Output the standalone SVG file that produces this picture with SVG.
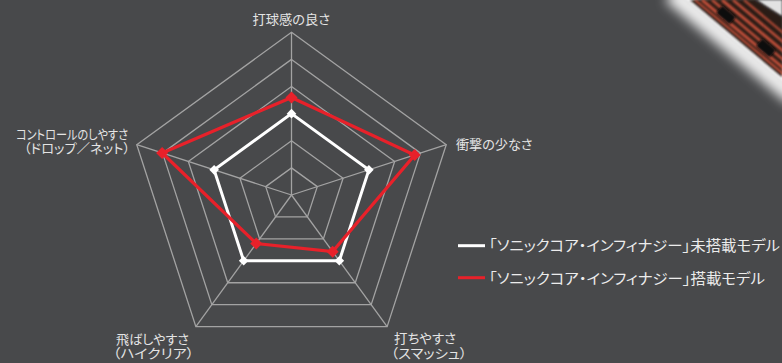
<svg xmlns="http://www.w3.org/2000/svg" width="782" height="363" viewBox="0 0 782 363">
<defs>
<style>
.bg{fill:#48494b}
.grid{fill:none;stroke:#a3a3a3;stroke-width:1.3}
.lbl{font-family:"Noto Sans CJK JP","Noto Sans",sans-serif;font-size:13px;fill:#e4e4e4;font-feature-settings:"palt"}
.leg{font-family:"Noto Sans CJK JP","Noto Sans",sans-serif;font-size:14.5px;fill:#ececec;font-feature-settings:"palt"}
.wline{fill:none;stroke:#ffffff;stroke-width:3;stroke-linejoin:miter}
.rline{fill:none;stroke:#e8212a;stroke-width:3.2;stroke-linejoin:miter}
.wm{fill:#ffffff}
.rm{fill:#e8212a}
.stripe{stroke:#c2503a;fill:none}
</style>
<filter id="blur" x="-50%" y="-50%" width="200%" height="200%"><feGaussianBlur stdDeviation="6"/></filter>
<filter id="blur2" x="-50%" y="-50%" width="200%" height="200%"><feGaussianBlur stdDeviation="1.2"/></filter>
<path id="dw" d="M0,-4.8 L4.8,0 L0,4.8 L-4.8,0Z"/>
<path id="dr" d="M0,-6 L6,0 L0,6 L-6,0Z"/>
</defs>
<rect class="bg" x="0" y="0" width="782" height="363"/>

<g id="racket">
<path d="M672,-8 L796,96" stroke="#ffffff" stroke-width="22" fill="none" filter="url(#blur)" opacity="0.9"/>
<path d="M686,-4 L790,84" stroke="#f4f4f4" stroke-width="5" fill="none" filter="url(#blur2)"/>
<polygon points="757,0 782,0 782,16" fill="#e2e2e2" filter="url(#blur2)"/>
<polygon points="690,0 782,77 782,17 755,0" fill="#2a1b19" filter="url(#blur2)"/>
<g class="stripe" filter="url(#blur2)">
<line x1="695" y1="0" x2="800" y2="88" stroke-width="2.2"/>
<line x1="702" y1="0" x2="800" y2="82" stroke-width="3"/>
<line x1="712" y1="0" x2="800" y2="74" stroke-width="2.5"/>
<line x1="722" y1="0" x2="800" y2="65" stroke-width="3"/>
<line x1="733" y1="0" x2="800" y2="56" stroke-width="2.5"/>
<line x1="744" y1="0" x2="800" y2="47" stroke-width="2"/>
</g>
<g fill="#111111" filter="url(#blur2)">
<rect x="-9" y="-5" width="18" height="10" rx="2" transform="translate(726,15) rotate(40)"/>
<rect x="-9" y="-5" width="18" height="10" rx="2" transform="translate(766,48) rotate(40)"/>
</g>
</g>

<g id="grid" class="grid">
<polygon points="291.5,167.88 317.29,186.62 307.44,216.94 275.56,216.94 265.71,186.62"/>
<polygon points="291.5,140.77 343.08,178.24 323.38,238.87 259.62,238.87 239.92,178.24"/>
<polygon points="291.5,113.65 368.87,169.86 339.32,260.81 243.68,260.81 214.13,169.86"/>
<polygon points="291.5,86.53 394.66,161.48 355.26,282.75 227.74,282.75 188.34,161.48"/>
<polygon points="291.5,59.42 420.45,153.10 371.19,304.68 211.81,304.68 162.55,153.10"/>
<polygon points="291.5,32.3 446.24,144.72 387.13,326.62 195.87,326.62 136.76,144.72"/>
<line x1="291.5" y1="195" x2="291.5" y2="32.3"/>
<line x1="291.5" y1="195" x2="446.24" y2="144.72"/>
<line x1="291.5" y1="195" x2="387.13" y2="326.62"/>
<line x1="291.5" y1="195" x2="195.87" y2="326.62"/>
<line x1="291.5" y1="195" x2="136.76" y2="144.72"/>
</g>

<g id="series-white">
<polygon class="wline" points="291.5,113.65 368.87,169.86 339.32,260.81 243.68,260.81 214.13,169.86"/>
<use href="#dw" class="wm" x="291.5" y="113.65"/>
<use href="#dw" class="wm" x="368.87" y="169.86"/>
<use href="#dw" class="wm" x="339.32" y="260.81"/>
<use href="#dw" class="wm" x="243.68" y="260.81"/>
<use href="#dw" class="wm" x="214.13" y="169.86"/>
</g>

<g id="series-red">
<polygon class="rline" points="291.5,97.5 414.67,154.98 332.65,251.63 256.23,243.54 162.15,152.98"/>
<use href="#dr" class="rm" x="291.5" y="97.5"/>
<use href="#dr" class="rm" x="414.67" y="154.98"/>
<use href="#dr" class="rm" x="332.65" y="251.63"/>
<use href="#dr" class="rm" x="256.23" y="243.54"/>
<use href="#dr" class="rm" x="162.15" y="152.98"/>
</g>

<g id="labels">
<text class="lbl" x="252.5" y="23.5" textLength="77.5" lengthAdjust="spacingAndGlyphs">打球感の良さ</text>
<text class="lbl" x="456" y="148.5" textLength="76.5" lengthAdjust="spacingAndGlyphs">衝撃の少なさ</text>
<text class="lbl"><tspan x="16" y="138.5" textLength="112" lengthAdjust="spacingAndGlyphs">コントロールのしやすさ</tspan><tspan x="24" y="152.5" textLength="106" lengthAdjust="spacingAndGlyphs">（ドロップ／ネット）</tspan></text>
<text class="lbl"><tspan x="116" y="343.5" textLength="73" lengthAdjust="spacingAndGlyphs">飛ばしやすさ</tspan><tspan x="113" y="358" textLength="81" lengthAdjust="spacingAndGlyphs">（ハイクリア）</tspan></text>
<text class="lbl"><tspan x="394" y="343" textLength="62" lengthAdjust="spacingAndGlyphs">打ちやすさ</tspan><tspan x="391" y="358" textLength="76" lengthAdjust="spacingAndGlyphs">（スマッシュ）</tspan></text>
</g>

<g id="legend">
<line x1="458" y1="245.7" x2="485" y2="245.7" stroke="#ffffff" stroke-width="3"/>
<text class="leg" x="489" y="251" textLength="291" lengthAdjust="spacingAndGlyphs">「ソニックコア・インフィナジー」未搭載モデル</text>
<line x1="458" y1="277.7" x2="485" y2="277.7" stroke="#e8212a" stroke-width="3"/>
<text class="leg" x="489" y="283.5" textLength="276" lengthAdjust="spacingAndGlyphs">「ソニックコア・インフィナジー」搭載モデル</text>
</g>
</svg>
